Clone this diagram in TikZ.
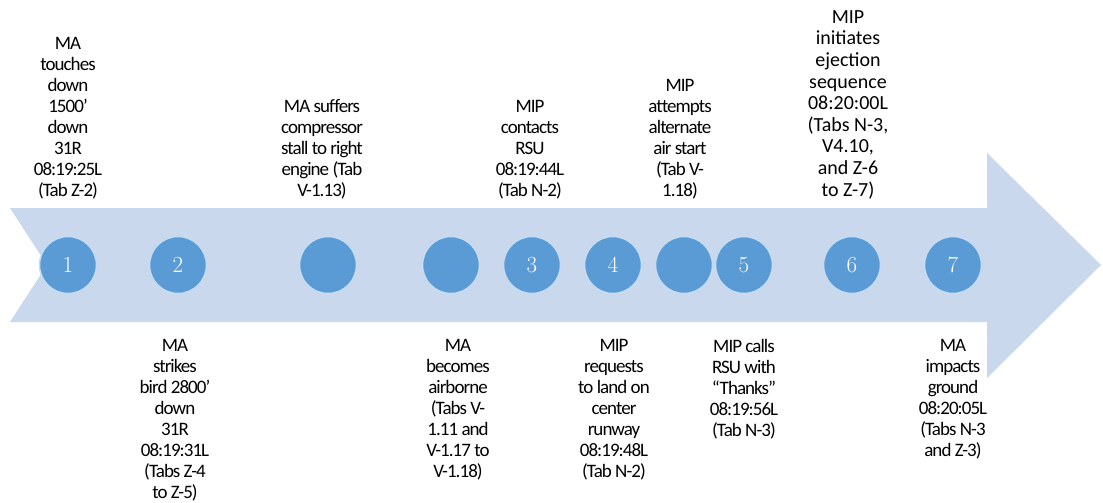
\documentclass[tikz,border=0pt]{standalone}
\usepackage{fontspec}
\usepackage{xcolor}
\usepackage{tikz}
\newfontfamily\calfont[LetterSpace=-5]{Carlito}
\newfontfamily\calwide{Carlito}
\definecolor{bandblue}{RGB}{201,216,236}
\definecolor{dotblue}{RGB}{91,155,213}
\definecolor{dotrim}{RGB}{196,221,243}
\tikzstyle{dot} = [draw=dotrim, fill=dotblue, circle, line width=1.5pt, minimum size=57pt, inner sep=0pt, text=white, font=\fontsize{23}{23}\selectfont]
\tikzstyle{uptext} = [anchor=south, align=center, inner sep=0pt, font=\calfont\fontsize{19}{21}\selectfont]
\tikzstyle{downtext} = [anchor=north, align=center, inner sep=0pt, font=\calfont\fontsize{19}{21}\selectfont]

\begin{document}
\begin{tikzpicture}[x=1pt, y=-1pt]
        \useasboundingbox (0,0) rectangle (1103,503);

        % 箭头底板
        \fill [bandblue] (10,208) -- (987,208) -- (987,153) -- (1101,265) -- (987,378)
            -- (987,322) -- (10,322) -- (47,265) -- cycle;

        % 时间点
        \node [dot] (e1) at (68,265) {1};
        \node [dot] (e2) at (178,265) {2};
        \node [dot] (stall) at (328,265) {};
        \node [dot] (air) at (451,265) {};
        \node [dot] (e3) at (532,265) {3};
        \node [dot] (e4) at (613,265) {4};
        \node [dot] (restart) at (684,265) {};
        \node [dot] (e5) at (744,265) {5};
        \node [dot] (e6) at (852,265) {6};
        \node [dot] (e7) at (953,265) {7};

        % 上方说明
        \node [uptext] (touch) at (68,199) {MA\\touches\\down\\1500’\\down\\31R\\08:19:25L\\(Tab Z-2)};
        \node [uptext] (suffer) at (322,199) {MA suffers\\compressor\\stall to right\\engine (Tab\\V-1.13)};
        \node [uptext] (contact) at (530,199) {MIP\\contacts\\RSU\\08:19:44L\\(Tab N-2)};
        \node [uptext] (attempt) at (680,199) {MIP\\attempts\\alternate\\air start\\(Tab V-\\1.18)};
        \node [uptext, font=\calwide\fontsize{20}{21.6}\selectfont] (eject) at (848,199) {MIP\\initiates\\ejection\\sequence\\08:20:00L\\(Tabs N-3,\\V4.10,\\and Z-6\\to Z-7)};

        % 下方说明
        \node [downtext] (strike) at (175,339) {MA\\strikes\\bird 2800’\\down\\31R\\08:19:31L\\(Tabs Z-4\\to Z-5)};
        \node [downtext] (airborne) at (458,339) {MA\\becomes\\airborne\\(Tabs V-\\1.11 and\\V-1.17 to\\V-1.18)};
        \node [downtext] (request) at (614,339) {MIP\\requests\\to land on\\center\\runway\\08:19:48L\\(Tab N-2)};
        \node [downtext] (thanks) at (744,339) {MIP calls\\RSU with\\“Thanks”\\08:19:56L\\(Tab N-3)};
        \node [downtext] (impact) at (953,339) {MA\\impacts\\ground\\08:20:05L\\(Tabs N-3\\and Z-3)};
    \end{tikzpicture}
\end{document}
